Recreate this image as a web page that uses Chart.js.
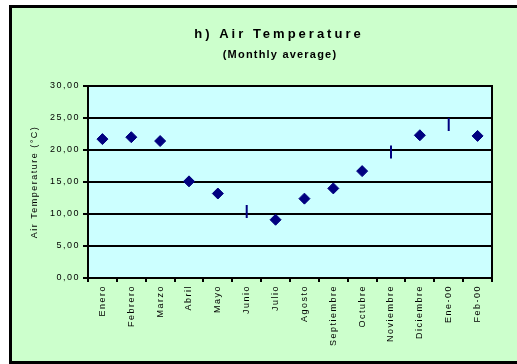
<!DOCTYPE html>
<html>
<head>
<meta charset="utf-8">
<script src="https://cdn.jsdelivr.net/npm/chart.js@4"></script>
<style>
  html, body { margin: 0; padding: 0; background: #ffffff; overflow: hidden; }
  #frame {
    position: absolute; left: 9px; top: 5px; width: 530px; height: 359px;
    box-sizing: border-box; border: 3px solid #000; background: #ccffcc;
  }
  #plot { position: absolute; left: 0; top: 0; }
</style>
</head>
<body>
<div id="frame"></div>
<canvas id="plot" width="517" height="364"></canvas>
<script>
var months = ['Enero', 'Febrero', 'Marzo', 'Abril', 'Mayo', 'Junio', 'Julio', 'Agosto',
              'Septiembre', 'Octubre', 'Noviembre', 'Diciembre', 'Ene-00', 'Feb-00'];
var airTemp = [21.7, 22.0, 21.4, 15.1, 13.2, 10.4, 9.1, 12.4, 14.0, 16.7, 19.7, 22.3, 24.0, 22.2];
// months drawn with a short vertical bar instead of a diamond
var barMonths = ['Junio', 'Noviembre', 'Ene-00'];
var yTicks = [0, 5, 10, 15, 20, 25, 30];

var FONT = 'Liberation Sans, Arial, sans-serif';

var framePlugin = {
    id: 'framePlugin',
    beforeDraw: function (chart) {
        var ctx = chart.ctx, a = chart.chartArea;
        ctx.fillStyle = '#ccffff';
        ctx.fillRect(a.left, a.top, a.right - a.left, a.bottom - a.top);
        ctx.letterSpacing = '1.5px';
    },
    afterDraw: function (chart) {
        var ctx = chart.ctx, a = chart.chartArea;
        ctx.save();
        ctx.strokeStyle = '#000';
        ctx.lineWidth = 2;
        ctx.beginPath();
        ctx.moveTo(a.right, a.top - 1);
        ctx.lineTo(a.right, a.bottom + 1);
        ctx.stroke();
        ctx.fillStyle = '#000';
        ctx.textAlign = 'center';
        ctx.textBaseline = 'alphabetic';
        ctx.font = 'bold 13px ' + FONT;
        ctx.letterSpacing = '3px';
        ctx.fillText('h) Air Temperature', 279, 38);
        ctx.font = 'bold 11px ' + FONT;
        ctx.letterSpacing = '1.2px';
        ctx.fillText('(Monthly average)', 280, 58);
        ctx.restore();
        ctx.letterSpacing = '0px';
    }
};

new Chart(document.getElementById('plot').getContext('2d'), {
    type: 'line',
    data: {
        labels: months,
        datasets: [{
            label: 'Air Temperature',
            data: airTemp,
            showLine: false,
            pointStyle: function (c) { return barMonths.indexOf(months[c.dataIndex]) >= 0 ? 'line' : 'rectRot'; },
            pointRotation: function (c) { return barMonths.indexOf(months[c.dataIndex]) >= 0 ? 90 : 0; },
            pointRadius: function (c) { return barMonths.indexOf(months[c.dataIndex]) >= 0 ? 6.5 : 5.5; },
            pointBorderWidth: function (c) { return barMonths.indexOf(months[c.dataIndex]) >= 0 ? 2 : 1; },
            pointBackgroundColor: '#000080',
            pointBorderColor: '#000080'
        }]
    },
    options: {
        responsive: false,
        animation: false,
        layout: { padding: { left: 0, right: 25, top: 86, bottom: 0 } },
        plugins: {
            legend: { display: false },
            title: { display: false },
            tooltip: { enabled: false }
        },
        scales: {
            x: {
                offset: true,
                afterFit: function (s) { s.height = 86; },
                grid: { drawOnChartArea: false, offset: true, color: '#000', lineWidth: 2, tickLength: 4 },
                border: { display: true, color: '#000', width: 2 },
                ticks: {
                    minRotation: 90, maxRotation: 90, autoSkip: false, padding: 3,
                    color: '#000', font: { family: FONT, size: 9 }
                }
            },
            y: {
                min: 0, max: 30,
                afterFit: function (s) { s.width = 88; },
                afterBuildTicks: function (s) { s.ticks = yTicks.map(function (v) { return { value: v }; }); },
                grid: { color: '#000', lineWidth: 2, tickLength: 5 },
                border: { display: true, color: '#000', width: 2 },
                ticks: {
                    padding: 3, color: '#000', font: { family: FONT, size: 9 },
                    callback: function (v) { return v.toFixed(2).replace('.', ','); }
                },
                title: {
                    display: true, text: 'Air Temperature (°C)', color: '#000',
                    font: { family: FONT, size: 9 }, padding: { top: 29, bottom: 0 }
                }
            }
        }
    },
    plugins: [framePlugin]
});
</script>
</body>
</html>
